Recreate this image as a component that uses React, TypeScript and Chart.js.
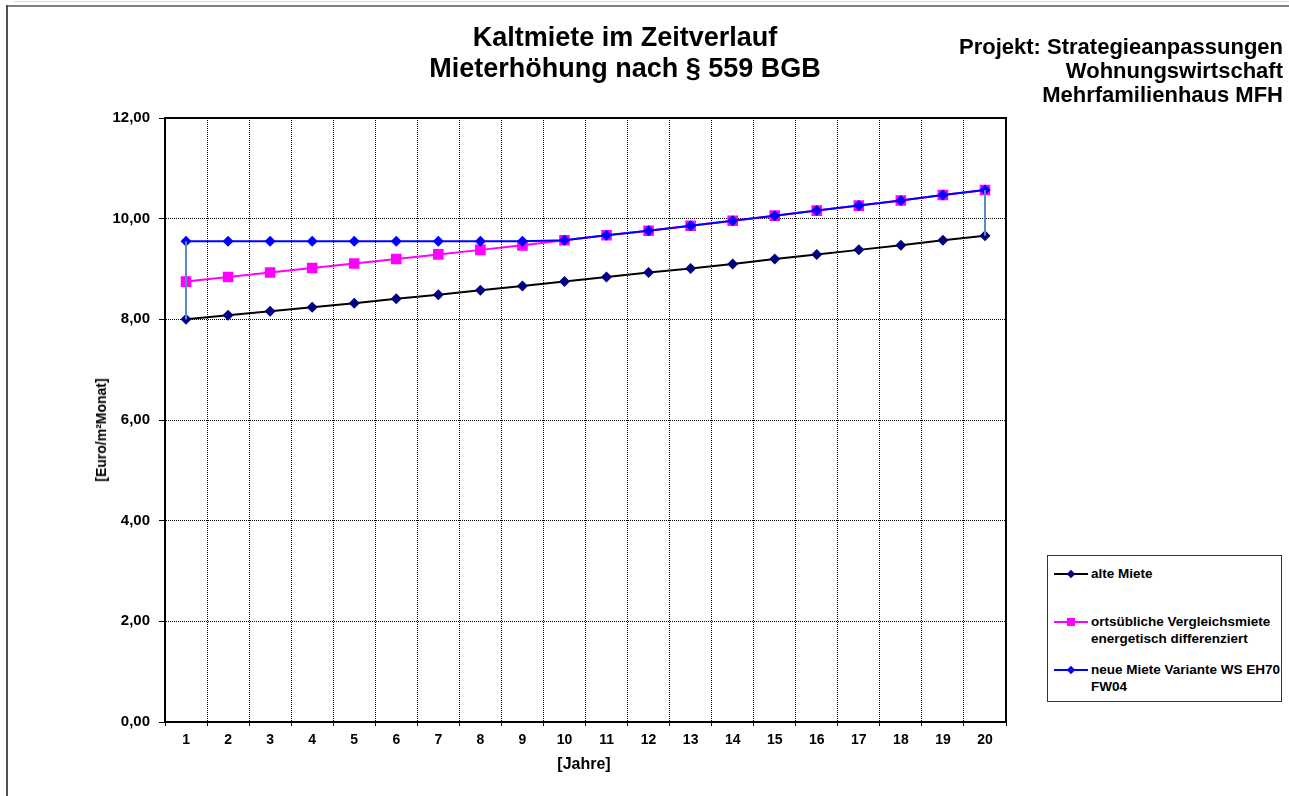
import React, { useEffect, useRef } from "react";
import { Chart, registerables } from "chart.js";

Chart.register(...registerables);

// Jahre 1..20
const years: string[] = [
  "1", "2", "3", "4", "5", "6", "7", "8", "9", "10",
  "11", "12", "13", "14", "15", "16", "17", "18", "19", "20",
];

// Euro/m² Monat
const alteMiete: number[] = [
  8.0, 8.08, 8.16, 8.24, 8.32, 8.41, 8.49, 8.58, 8.66, 8.75,
  8.84, 8.93, 9.01, 9.1, 9.2, 9.29, 9.38, 9.47, 9.57, 9.66,
];

const vergleichsmiete: number[] = [
  8.75, 8.84, 8.93, 9.02, 9.11, 9.2, 9.29, 9.38, 9.47, 9.57,
  9.67, 9.76, 9.86, 9.96, 10.06, 10.16, 10.26, 10.36, 10.47, 10.57,
];

const neueMiete: number[] = [
  9.55, 9.55, 9.55, 9.55, 9.55, 9.55, 9.55, 9.55, 9.55, 9.57,
  9.67, 9.76, 9.86, 9.96, 10.06, 10.16, 10.26, 10.36, 10.47, 10.57,
];

const yTicks: number[] = [0, 2, 4, 6, 8, 10, 12];

const seriesNames: string[] = [
  "alte Miete",
  "ortsübliche Vergleichsmiete energetisch differenziert",
  "neue Miete Variante WS EH70 FW04",
];

const FONT = "'Liberation Sans', Arial, Helvetica, sans-serif";

const fmt = (v: number) => v.toFixed(2).replace(".", ",");

// solid frame around the plot area
const plotFrame = {
  id: "plotFrame",
  beforeDatasetsDraw(chart: any) {
    const { ctx, chartArea } = chart;
    ctx.save();
    ctx.strokeStyle = "#000";
    ctx.lineWidth = 2;
    ctx.strokeRect(
      chartArea.left,
      chartArea.top,
      chartArea.right - chartArea.left,
      chartArea.bottom - chartArea.top
    );
    ctx.restore();
  },
};

export default function App() {
  const canvasRef = useRef<HTMLCanvasElement | null>(null);

  useEffect(() => {
    if (!canvasRef.current) return;
    const first = years[0];
    const last = years[years.length - 1];
    const n = years.length - 1;

    const chart = new Chart(canvasRef.current, {
      type: "line",
      data: {
        labels: years,
        datasets: [
          {
            label: "Anpassung Beginn",
            data: [
              { x: first, y: alteMiete[0] },
              { x: first, y: neueMiete[0] },
            ] as any,
            borderColor: "#5a8ac6",
            borderWidth: 2,
            pointRadius: 0,
            order: 0,
          },
          {
            label: "Anpassung Ende",
            data: [
              { x: last, y: alteMiete[n] },
              { x: last, y: neueMiete[n] },
            ] as any,
            borderColor: "#5a8ac6",
            borderWidth: 2,
            pointRadius: 0,
            order: 0,
          },
          {
            label: seriesNames[2],
            data: neueMiete,
            borderColor: "#0000ff",
            backgroundColor: "#0000ff",
            borderWidth: 2,
            pointStyle: "rectRot",
            pointRadius: 5.5,
            pointBorderWidth: 0,
            tension: 0,
            order: 1,
          },
          {
            label: seriesNames[1],
            data: vergleichsmiete,
            borderColor: "#ff00ff",
            backgroundColor: "#ff00ff",
            borderWidth: 2,
            pointStyle: "rect",
            pointRadius: 7.5,
            pointBorderWidth: 0,
            tension: 0,
            order: 2,
          },
          {
            label: seriesNames[0],
            data: alteMiete,
            borderColor: "#000000",
            backgroundColor: "#000080",
            borderWidth: 2,
            pointStyle: "rectRot",
            pointRadius: 5.5,
            pointBorderWidth: 0,
            tension: 0,
            order: 3,
          },
        ],
      },
      options: {
        animation: false,
        responsive: false,
        events: [],
        layout: {
          autoPadding: false,
          padding: { top: 118, right: 283, bottom: 0, left: 0 },
        },
        plugins: {
          legend: { display: false },
          tooltip: { enabled: false },
          title: { display: false },
        },
        scales: {
          x: {
            type: "category",
            offset: true,
            grid: {
              offset: true,
              color: "#000",
              lineWidth: 1,
              tickColor: "#000",
              tickLength: 4,
              tickBorderDash: [],
            },
            border: { display: true, color: "#000", width: 2, dash: [1, 1] },
            ticks: {
              color: "#000",
              padding: 6,
              maxRotation: 0,
              autoSkip: false,
              font: { family: FONT, size: 14, weight: "bold" },
            },
            afterFit(scale: any) {
              scale.height = 74;
            },
          },
          y: {
            min: yTicks[0],
            max: yTicks[yTicks.length - 1],
            afterBuildTicks(scale: any) {
              scale.ticks = yTicks.map((v) => ({ value: v }));
            },
            grid: {
              color: "#000",
              lineWidth: 1,
              tickColor: "#000",
              tickLength: 6,
              tickBorderDash: [],
            },
            border: { display: true, color: "#000", width: 2, dash: [1, 1] },
            ticks: {
              color: "#000",
              padding: 9,
              font: { family: FONT, size: 15, weight: "bold" },
              callback: (v: any) => fmt(Number(v)),
            },
            afterFit(scale: any) {
              scale.width = 165;
            },
          },
        },
      },
      plugins: [plotFrame],
    });

    return () => chart.destroy();
  }, []);

  const legendRows = [
    { name: seriesNames[0], line: "#000000", marker: "#000080", shape: "diamond", top: 18, lines: ["alte Miete"] },
    {
      name: seriesNames[1],
      line: "#ff00ff",
      marker: "#ff00ff",
      shape: "square",
      top: 66,
      lines: ["ortsübliche Vergleichsmiete", "energetisch differenziert"],
    },
    {
      name: seriesNames[2],
      line: "#0000ff",
      marker: "#0000ff",
      shape: "diamond",
      top: 114,
      lines: ["neue Miete Variante WS EH70", "FW04"],
    },
  ];

  return (
    <div
      style={{
        position: "absolute",
        left: 0,
        top: 0,
        width: 1289,
        height: 796,
        background: "#fff",
        overflow: "hidden",
        fontFamily: FONT,
        color: "#000",
      }}
    >
      {/* outer sheet frame */}
      <div style={{ position: "absolute", left: 14, top: 1, right: 0, height: 1, background: "#dcdcdc" }} />
      <div style={{ position: "absolute", left: 6, top: 5, right: 0, height: 2, background: "#808080" }} />
      <div style={{ position: "absolute", left: 6, top: 5, bottom: 0, width: 2, background: "#505050" }} />

      <canvas
        ref={canvasRef}
        width={1289}
        height={796}
        style={{ position: "absolute", left: 0, top: 0, width: 1289, height: 796, display: "block" }}
      />

      {/* main title */}
      <div
        style={{
          position: "absolute",
          left: 325,
          top: 22,
          width: 600,
          textAlign: "center",
          fontSize: 27,
          fontWeight: "bold",
          lineHeight: "31px",
        }}
      >
        <div>Kaltmiete im Zeitverlauf</div>
        <div>Mieterhöhung nach § 559 BGB</div>
      </div>

      {/* project caption */}
      <div
        style={{
          position: "absolute",
          right: 6,
          top: 35,
          textAlign: "right",
          fontSize: 22,
          fontWeight: "bold",
          lineHeight: "24px",
          whiteSpace: "nowrap",
        }}
      >
        <div>Projekt: Strategieanpassungen</div>
        <div>Wohnungswirtschaft</div>
        <div>Mehrfamilienhaus MFH</div>
      </div>

      {/* axis titles */}
      <div
        style={{
          position: "absolute",
          left: 101,
          top: 430,
          transform: "translate(-50%, -50%) rotate(-90deg)",
          fontSize: 14,
          fontWeight: "bold",
          whiteSpace: "nowrap",
        }}
      >
        [Euro/m²Monat]
      </div>
      <div
        style={{
          position: "absolute",
          left: 484,
          top: 754,
          width: 200,
          textAlign: "center",
          fontSize: 16,
          fontWeight: "bold",
          lineHeight: "20px",
        }}
      >
        [Jahre]
      </div>

      {/* legend */}
      <div
        style={{
          position: "absolute",
          left: 1047,
          top: 555,
          width: 233,
          height: 145,
          border: "1px solid #333",
          background: "#fff",
        }}
      >
        {legendRows.map((r) => (
          <div key={r.name}>
            <div
              style={{
                position: "absolute",
                left: 6,
                top: r.top - 1,
                width: 34,
                height: 2,
                background: r.line,
              }}
            />
            {r.shape === "diamond" ? (
              <div
                style={{
                  position: "absolute",
                  left: 23 - 3,
                  top: r.top - 3,
                  width: 6,
                  height: 6,
                  background: r.marker,
                  transform: "rotate(45deg)",
                }}
              />
            ) : (
              <div
                style={{
                  position: "absolute",
                  left: 23 - 4,
                  top: r.top - 4,
                  width: 8,
                  height: 8,
                  background: r.marker,
                }}
              />
            )}
            <div
              style={{
                position: "absolute",
                left: 43,
                top: r.top - 9,
                fontSize: 13.5,
                fontWeight: "bold",
                lineHeight: "17px",
                whiteSpace: "nowrap",
              }}
            >
              {r.lines.map((t) => (
                <div key={t}>{t}</div>
              ))}
            </div>
          </div>
        ))}
      </div>
    </div>
  );
}
